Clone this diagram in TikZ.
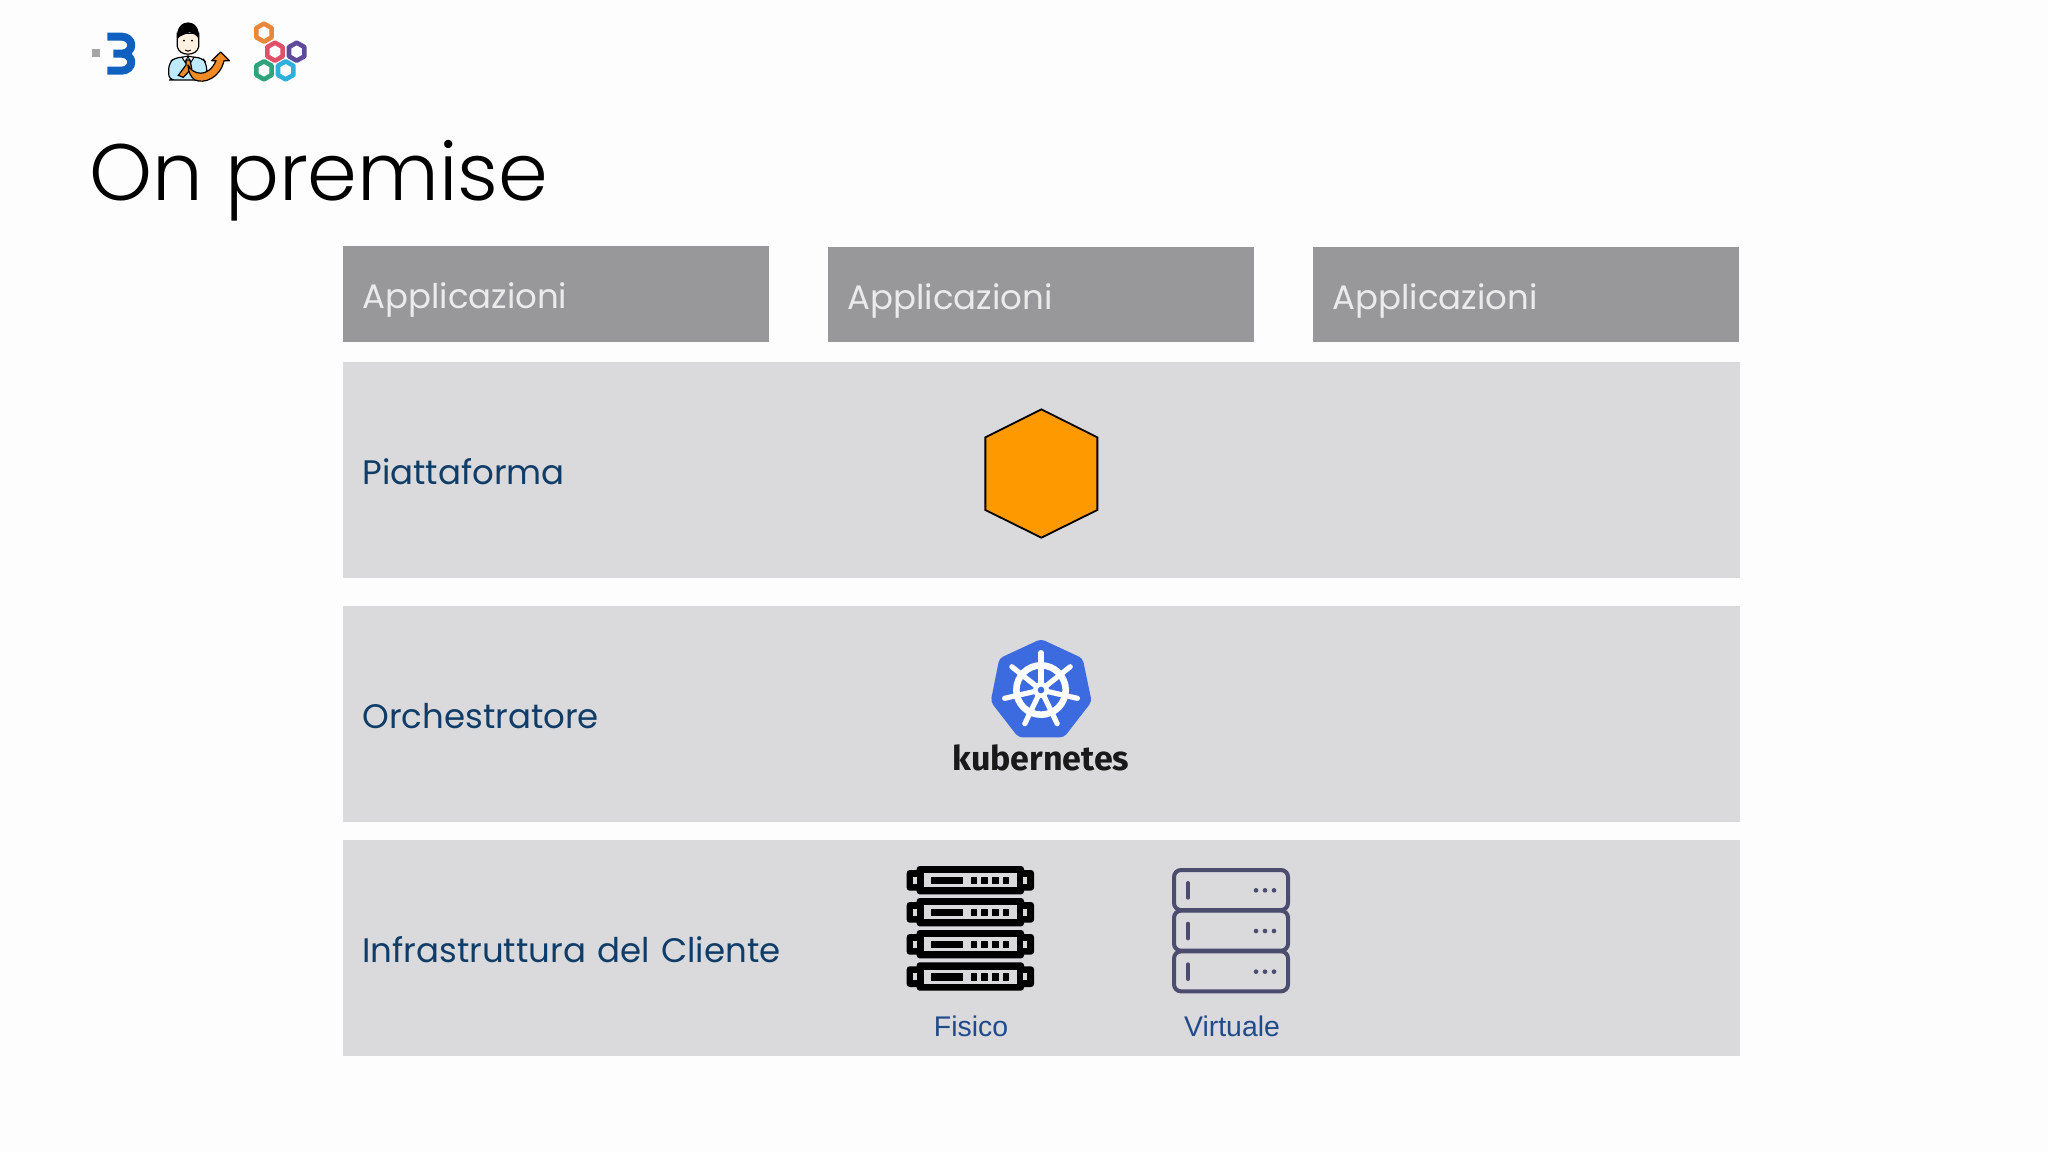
\documentclass[tikz,border=0pt]{standalone}
\usepackage{fontspec}
\setmainfont{Lato}
\newfontfamily\titlefont{Poppins}[UprightFont=* Light]
\newfontfamily\labelfont{Poppins}
\newfontfamily\arialfont{Liberation Sans}
\newfontfamily\kubefont{Fira Sans}[UprightFont=* Bold]
\definecolor{pagebg}{HTML}{FDFDFE}
\definecolor{appgrey}{HTML}{98979A}
\definecolor{panelgrey}{HTML}{DAD9DC}
\definecolor{labelnavy}{HTML}{0F3D68}
\definecolor{smallblue}{HTML}{1F4A8C}
\definecolor{logoblue}{HTML}{1060C0}
\definecolor{kubeblue}{HTML}{3C6BDF}
\definecolor{hexorange}{HTML}{FF9900}
\definecolor{virtline}{HTML}{4C4C6E}
\definecolor{arrowtint}{HTML}{F08A24}
\definecolor{hexA}{HTML}{E8883A}
\definecolor{hexB}{HTML}{E0506A}
\definecolor{hexC}{HTML}{5E4A9A}
\definecolor{hexD}{HTML}{2FA37C}
\definecolor{hexE}{HTML}{2FB0DC}
\tikzset{
  appbox/.style={fill=appgrey,text=white!92!black,font=\labelfont\fontsize{17}{20}\selectfont,
    minimum height=47.7pt,text width=194pt,text height=18.2pt,text depth=3.5pt,inner xsep=9.5pt,inner ysep=0pt,align=left,anchor=north west},
  panelbox/.style={fill=panelgrey,text=labelnavy,font=\labelfont\fontsize{17}{20}\selectfont,
    minimum height=108pt,text width=679.5pt,text height=17.6pt,text depth=3.5pt,inner xsep=9.5pt,inner ysep=0pt,align=left,anchor=north west},
  smalltext/.style={text=smallblue,font=\arialfont\fontsize{14.2}{16}\selectfont,inner sep=0pt},
  zoomA/.style={shift={(#1)},x=0.16667pt,y=-0.16667pt},
  hexstroke/.style={line width=2.3pt,line join=round}
}
\newcommand{\hexat}[3]{\draw[hexstroke,draw=#3] (#1,#2-27) -- (#1+23,#2-14) -- (#1+23,#2+14) -- (#1,#2+27) -- (#1-23,#2+14) -- (#1-23,#2-14) -- cycle;}
\newcommand{\rackunit}[1]{%
  \begin{scope}[yshift=#1*-0.16667pt]
    \fill[black,rounded corners=1.5pt] (50,-31) rectangle (432,31);
    \fill[black,rounded corners=1.5pt] (80,-43) rectangle (402,42);
    \fill[panelgrey] (102,-21) rectangle (380,21);
    \fill[panelgrey] (70,-11) rectangle (82,11);
    \fill[panelgrey] (400,-11) rectangle (412,11);
    \fill[black] (122,-11) rectangle (220,12);
    \foreach \xx in {242,274,306,338}{\fill[black] (\xx,-11) rectangle (\xx+20,12);}
  \end{scope}}
\newcommand{\virtunit}[1]{%
  \draw[virtline,line width=2pt,rounded corners=3.5pt] (72,#1-61) rectangle (414,#1+59);
  \draw[virtline,line width=2pt,line cap=round] (114,#1-22) -- (114,#1+22);
  \foreach \xx in {318,345,372}{\fill[virtline] (\xx,#1) circle (7);}}
\begin{document}
\begin{tikzpicture}[x=0.5pt,y=-0.5pt]
\useasboundingbox (0,0) rectangle (2048,1152);
\fill[pagebg] (0,0) rectangle (2048,1152);

% title
\node[anchor=base west,inner sep=0pt,text=black,font=\titlefont\fontsize{40}{50}\selectfont] (title) at (89,200) {On premise};

% boxes
\node[appbox] (app1) at (343,246) {Applicazioni};
\node[appbox] (app2) at (828,246.5) {Applicazioni};
\node[appbox] (app3) at (1313,246.5) {Applicazioni};
\node[panelbox] (piatt) at (343,362) {Piattaforma};
\node[panelbox] (orch) at (343,606) {Orchestratore};
\node[panelbox] (infra) at (343,840) {Infrastruttura del Cliente};

% orange hexagon
\begin{scope}[zoomA={960,390}]
  \draw[fill=hexorange,draw=black,line width=0.9pt,line join=miter]
    (244,58) -- (412,142) -- (412,360) -- (244,443) -- (76,360) -- (76,142) -- cycle;
\end{scope}

% kubernetes
\begin{scope}[zoomA={920,620}]
  \fill[kubeblue,rounded corners=2pt] (363,57) -- (488,115) -- (515,245) -- (432,352) -- (295,352) -- (212,245) -- (238,115) -- cycle;
  \draw[white,line width=3.3pt] (363,210) circle (74);
  \foreach \aa in {90,141.43,192.86,244.29,295.71,347.14,398.57}{
    \draw[white,line width=2.6pt,line cap=round] (363,210) -- ++(\aa:-112);
  }
  \fill[white] (363,210) circle (24);
  \fill[kubeblue] (363,210) circle (10);
\end{scope}
\node[inner sep=0pt,text=black!90,font=\kubefont\fontsize{17}{20}\selectfont] (kube) at (1041,758) {kubernetes};

% physical server
\begin{scope}[zoomA={890,850}]
  \rackunit{91}\rackunit{187}\rackunit{283}\rackunit{380}
\end{scope}
\node[smalltext] (fisico) at (971,1026) {Fisico};

% virtual server
\begin{scope}[zoomA={1150,850}]
  \virtunit{121}\virtunit{243}\virtunit{365}
\end{scope}
\node[smalltext] (virtuale) at (1232,1026) {Virtuale};

% logos
\begin{scope}[zoomA={60,0}]
  \fill[black!35] (97,148) rectangle (121,172);
  \draw[logoblue,line width=4pt,line join=round]
    (142,110) -- (185,110) arc (-90:90:29 and 25.5) -- (160,161) (185,161) arc (-90:90:29 and 25.5) -- (142,212);
  % person
  \draw[fill=cyan!25,draw=black,line width=0.6pt,rounded corners=3pt]
    (345,240) -- (326,240) -- (326,190) -- (345,172) -- (425,172) -- (440,190) -- (440,240) -- cycle;
  \draw[fill=orange!12,draw=black,line width=0.6pt]
    (352,100) -- (352,140) .. controls (356,170) and (412,170) .. (416,140) -- (416,100) -- cycle;
  \fill[black] (352,118) .. controls (342,50) and (426,50) .. (416,118) .. controls (412,105) and (400,102) .. (388,96) .. controls (378,105) and (358,105) .. (352,118) -- cycle;
  \fill[black] (372,122) circle (3) (396,122) circle (3);
  \draw[black,line width=0.5pt] (376,150) .. controls (380,155) and (388,155) .. (392,150);
  \draw[fill=white,draw=black,line width=0.5pt] (366,172) -- (384,168) -- (376,188) -- cycle (402,172) -- (384,168) -- (392,188) -- cycle;
  \draw[fill=arrowtint,draw=black,line width=0.6pt] (378,180) -- (390,180) -- (395,205) -- (370,232) -- (355,226) -- (378,195) -- cycle;
  \draw[fill=arrowtint,draw=black,line width=0.6pt,line join=round]
    (384,195) .. controls (398,225) and (445,235) .. (468,182) -- (455,182) -- (482,156) -- (508,182) -- (492,182)
    .. controls (480,235) and (432,252) .. (405,240) .. controls (392,232) and (385,215) .. (384,195) -- cycle;
  % hexagon cluster
  \hexat{612}{98}{hexA}
  \hexat{645}{155}{hexB}
  \hexat{710}{155}{hexC}
  \hexat{612}{211}{hexD}
  \hexat{677}{211}{hexE}
\end{scope}
\end{tikzpicture}
\end{document}
